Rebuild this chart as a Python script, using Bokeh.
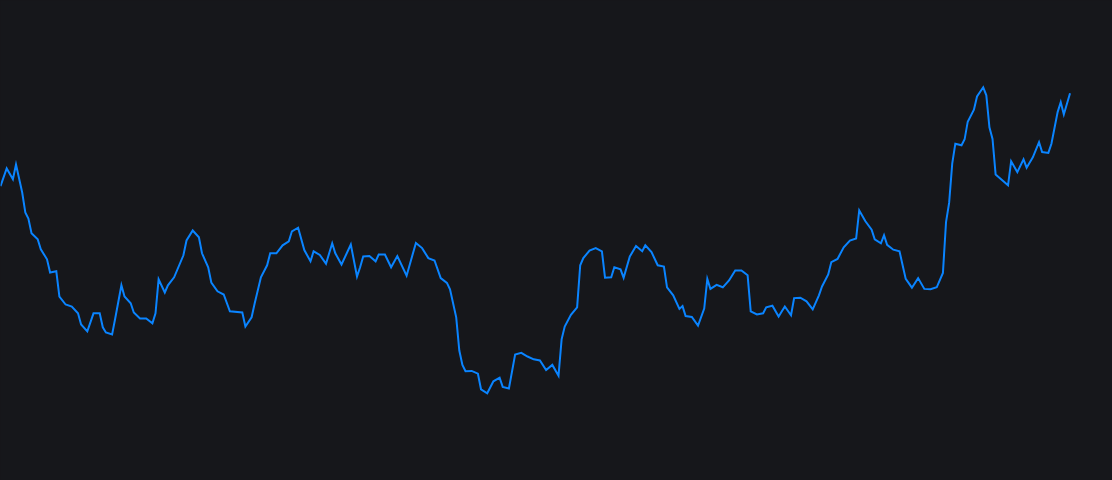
from bokeh.plotting import figure
from bokeh.models import Range1d, ColumnDataSource
from bokeh.embed import file_html
from bokeh.resources import INLINE

# trading-day index and price (turning points of the series)
day = [0, 2, 4, 5, 7, 8, 9, 10, 12, 13, 15, 16, 18, 19, 21, 23, 25, 26, 28, 30,
       32, 33, 34, 36, 37, 39, 40, 42, 43, 45, 47, 49, 50, 51, 53, 54, 56, 59, 60, 62,
       64, 65, 67, 68, 70, 72, 74, 78, 79, 81, 82, 84, 86, 87, 89, 91, 93, 94, 96, 98,
       100, 101, 103, 105, 107, 108, 110, 113, 115, 116, 117, 119, 121, 122, 124, 126, 128, 131, 134, 136,
       138, 140, 142, 144, 145, 147, 148, 149, 150, 152, 154, 155, 157, 159, 161, 162, 164, 166, 168, 170,
       172, 174, 176, 178, 180, 181, 182, 184, 186, 187, 188, 190, 192, 194, 195, 197, 198, 200, 201, 203,
       205, 207, 208, 210, 212, 214, 215, 217, 219, 220, 221, 223, 225, 227, 228, 229, 231, 233, 235, 237,
       239, 241, 242, 244, 246, 247, 249, 251, 253, 255, 256, 258, 260, 262, 264, 265, 267, 268, 270, 272,
       274, 276, 277, 279, 281, 282, 284, 285, 286, 288, 290, 291, 292, 294, 296, 298, 300, 302, 304, 305,
       306, 307, 308, 310, 311, 312, 314, 315, 317, 318, 319, 320, 321, 325, 326, 328, 330, 331, 333, 335,
       336, 338, 339, 341, 342, 343, 345]

price = [73.6, 78.0, 75.3, 79.0, 72.0, 67.0, 65.5, 61.8, 60.3, 57.8, 55.3, 52.0, 52.3, 46.0, 44.0, 43.5, 41.8, 39.0, 37.3, 41.8,
         41.8, 38.3, 37.0, 36.5, 40.5, 48.8, 46.0, 44.3, 42.0, 40.5, 40.5, 39.3, 41.8, 50.3, 47.0, 48.8, 50.8, 56.3, 60.0, 62.5,
         60.8, 56.8, 53.3, 49.5, 47.3, 46.5, 42.3, 42.0, 38.5, 40.8, 44.3, 50.8, 53.8, 56.8, 56.8, 58.8, 59.8, 62.3, 63.2, 57.6,
         54.8, 57.3, 56.4, 54.2, 59.3, 56.8, 54.0, 59.0, 51.0, 53.3, 56.0, 56.1, 54.8, 56.5, 56.5, 53.3, 56.1, 51.2, 59.4, 58.1,
         55.6, 55.0, 50.6, 49.4, 47.8, 40.8, 32.5, 28.9, 27.3, 27.4, 26.7, 22.8, 21.8, 24.8, 25.7, 23.4, 23.0, 31.5, 31.9, 31.0,
         30.3, 30.0, 27.6, 28.9, 26.2, 35.3, 38.5, 41.4, 43.3, 53.8, 55.6, 57.5, 58.1, 57.3, 50.7, 50.8, 53.3, 52.8, 50.7, 56.0,
         58.6, 57.3, 58.8, 57.1, 53.8, 53.5, 48.3, 46.3, 42.9, 43.6, 41.1, 40.9, 38.7, 43.0, 50.4, 47.9, 48.9, 48.3, 50.0, 52.5,
         52.5, 51.3, 42.3, 41.5, 41.8, 43.3, 43.7, 41.0, 43.5, 41.3, 45.6, 45.7, 44.8, 42.8, 46.3, 48.5, 51.5, 54.6, 55.4, 58.3,
         60.0, 60.5, 67.5, 64.8, 62.7, 60.3, 59.3, 61.3, 58.9, 57.7, 57.3, 53.8, 50.4, 48.2, 50.6, 47.9, 47.8, 48.3, 51.9, 64.6,
         69.4, 79.2, 84.2, 83.8, 85.3, 89.7, 92.7, 96.0, 98.3, 96.3, 88.3, 85.4, 76.5, 73.8, 79.8, 77.1, 80.3, 78.2, 80.8, 84.6,
         82.1, 81.9, 84.2, 92.1, 94.6, 91.5, 96.8]

BG = "#16171b"
LINE = "#0a84ff"

source = ColumnDataSource(data=dict(day=day, price=price))

p = figure(width=1112, height=480,
           x_range=Range1d(0, 358.7), y_range=Range1d(0, 120),
           output_backend="svg", toolbar_location=None,
           min_border=0, min_border_left=0, min_border_right=0,
           min_border_top=0, min_border_bottom=0)
p.background_fill_color = BG
p.border_fill_color = BG
p.outline_line_color = None
p.xaxis.visible = False
p.yaxis.visible = False
p.xgrid.visible = False
p.ygrid.visible = False

p.line("day", "price", source=source, line_color=LINE, line_width=2,
       line_join="miter")

html = file_html(p, INLINE)
html = html.replace("<head>", "<head><style>html,body{margin:0;padding:0;background:%s;}</style>" % BG, 1)
open("out.html", "w").write(html)
